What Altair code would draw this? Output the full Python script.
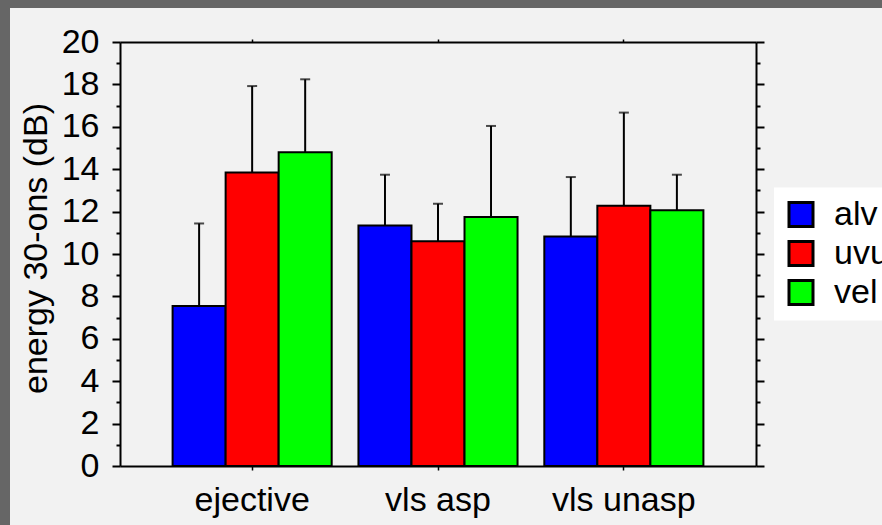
import altair as alt
import pandas as pd

# Group means and standard deviations of onset energy (dB)
categories = ["ejective", "vls asp", "vls unasp"]
places = ["alv", "uvu", "vel"]
mean_alv = [7.55, 11.35, 10.83]
mean_uvu = [13.85, 10.60, 12.28]
mean_vel = [14.80, 11.75, 12.06]
sd_alv = [3.89, 2.39, 2.80]
sd_uvu = [4.07, 1.77, 4.39]
sd_vel = [3.44, 4.29, 1.68]
colors = ["#0000ff", "#ff0000", "#00ff00"]
y_ticks = list(range(0, 21))

rows = []
for place, means, sds in zip(places, [mean_alv, mean_uvu, mean_vel], [sd_alv, sd_uvu, sd_vel]):
    for cat, m, s in zip(categories, means, sds):
        rows.append({"cat": cat, "place": place, "mean": m, "upper": m + s})
df = pd.DataFrame(rows)

FONT = "Liberation Sans"
FS = 34

x_scale = alt.Scale(domain=categories, paddingInner=0.144, paddingOuter=0.283)
off_scale = alt.Scale(domain=places, paddingInner=0, paddingOuter=0)
y_scale = alt.Scale(domain=[0, 20], nice=False, zero=True)

# major ticks on even values, minor ticks on odd values
tick_len = {"condition": {"test": "datum.value % 2 === 0", "value": 8}, "value": 4}

common = dict(zindex=2, grid=False, domainColor="black", domainWidth=2,
              tickColor="black", labelFont=FONT, labelFontSize=FS,
              labelColor="black")

left_axis = alt.Axis(
    orient="left", values=y_ticks,
    labelExpr="datum.value % 2 === 0 ? datum.label : ''",
    labelOverlap=False, tickSize=tick_len, tickWidth=2, labelPadding=13,
    title="energy 30-ons (dB)", titleFont=FONT, titleFontSize=FS,
    titleFontWeight="normal", titleColor="black", titleAngle=270,
    titleX=-74, titleY=206, titleAlign="center", titleBaseline="alphabetic",
    **common,
)
right_axis = alt.Axis(
    orient="right", values=y_ticks, labels=False, tickSize=tick_len,
    tickWidth=2, title=None, **common,
)
bottom_axis = alt.Axis(
    orient="bottom", title=None, labelAngle=0, tickSize=4, tickWidth=1.5,
    labelPadding=13, **common,
)
top_axis = alt.Axis(
    orient="top", title=None, labels=False, tickSize=3, tickWidth=1.5,
    **common,
)

legend = alt.Legend(
    title=None, orient="none", legendX=654, legendY=145.5, fillColor="white",
    padding=10, symbolType="square", symbolSize=576, symbolStrokeWidth=3,
    symbolStrokeColor="black", labelFont=FONT, labelFontSize=FS,
    labelColor="black", labelOffset=16, rowPadding=3, zindex=3,
)

panel = alt.Chart(pd.DataFrame({"k": [0]})).mark_rect(fill="#f2f2f2").encode(
    x=alt.value(-110), x2=alt.value(800), y=alt.value(-34), y2=alt.value(520)
)

base = alt.Chart(df)

bars = base.mark_bar(stroke="black", strokeWidth=2).encode(
    x=alt.X("cat:N", scale=x_scale, axis=bottom_axis),
    xOffset=alt.XOffset("place:N", scale=off_scale),
    y=alt.Y("mean:Q", scale=y_scale, axis=left_axis),
    color=alt.Color("place:N", scale=alt.Scale(domain=places, range=colors), legend=legend),
)

whiskers = base.mark_rule(color="black", strokeWidth=2).encode(
    x=alt.X("cat:N", scale=x_scale, axis=top_axis),
    xOffset=alt.XOffset("place:N", scale=off_scale),
    y=alt.Y("mean:Q", scale=y_scale, axis=right_axis),
    y2="upper:Q",
)

caps = base.mark_tick(color="black", thickness=2, size=10).encode(
    x=alt.X("cat:N", scale=x_scale, axis=None),
    xOffset=alt.XOffset("place:N", scale=off_scale),
    y=alt.Y("upper:Q", scale=y_scale, axis=None),
)

chart = (
    alt.layer(panel, bars, whiskers, caps)
    .resolve_axis(x="independent", y="independent")
    .properties(
        width=636, height=424, background="#666666",
        padding={"left": 120, "top": 42, "right": 126, "bottom": 59},
        autosize=alt.AutoSizeParams(type="none"),
    )
    .configure_view(stroke=None)
)

chart.save("out.html", embed_options={"renderer": "svg", "actions": False})
